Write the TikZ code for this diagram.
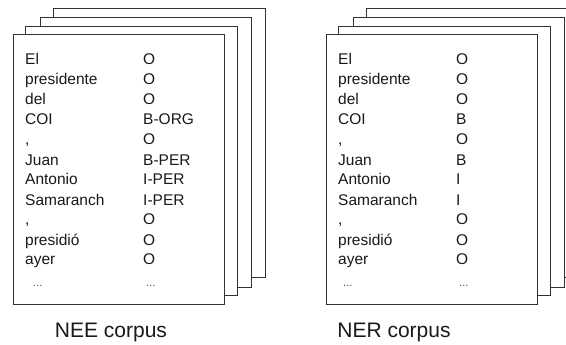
\documentclass[tikz,border=0pt]{standalone}
\usepackage{fontspec}
\setmainfont{Liberation Sans}
\begin{document}
\begin{tikzpicture}[x=1pt,y=-1pt,
  page/.style={draw=black!80, line width=0.9pt, fill=white},
  word/.style={anchor=base west, inner sep=0pt, text=black!90, font=\fontsize{15.5}{15.5}\selectfont},
  dots/.style={anchor=base west, inner sep=0pt, text=black!70, font=\fontsize{11}{11}\selectfont},
  caption/.style={anchor=base, inner sep=0pt, text=black!90, font=\fontsize{21}{21}\selectfont}]
\useasboundingbox (0,0) rectangle (566,345);
% stacked pages, back to front
\foreach \gx/\w in {0/211, 313/211} {
  \draw[page] (\gx+53,8) rectangle ++(\w+1,269);
  \draw[page] (\gx+40,17) rectangle ++(\w,270);
  \draw[page] (\gx+25,26) rectangle ++(\w+1,269);
  \draw[page] (\gx+13,34) rectangle ++(\w,270);
}
% token / tag columns
\foreach \tok/\nee/\ner [count=\i from 0] in {
  El/O/O, presidente/O/O, del/O/O, COI/B-ORG/B, {,}/O/O, Juan/B-PER/B,
  Antonio/I-PER/I, Samaranch/I-PER/I, {,}/O/O, presidió/O/O, ayer/O/O} {
  \node[word] (lt\i) at (25,65+20*\i) {\tok};
  \node[word] (la\i) at (143,65+20*\i) {\nee};
  \node[word] (rt\i) at (338,65+20*\i) {\tok};
  \node[word] (ra\i) at (456,65+20*\i) {\ner};
}
\node[dots] (ldl) at (33,286) {...};
\node[dots] (ldr) at (146,286) {...};
\node[dots] (rdl) at (343,286) {...};
\node[dots] (rdr) at (459,286) {...};
% captions
\node[caption] (nee) at (111,337) {NEE corpus};
\node[caption] (ner) at (394,337) {NER corpus};
\end{tikzpicture}
\end{document}
